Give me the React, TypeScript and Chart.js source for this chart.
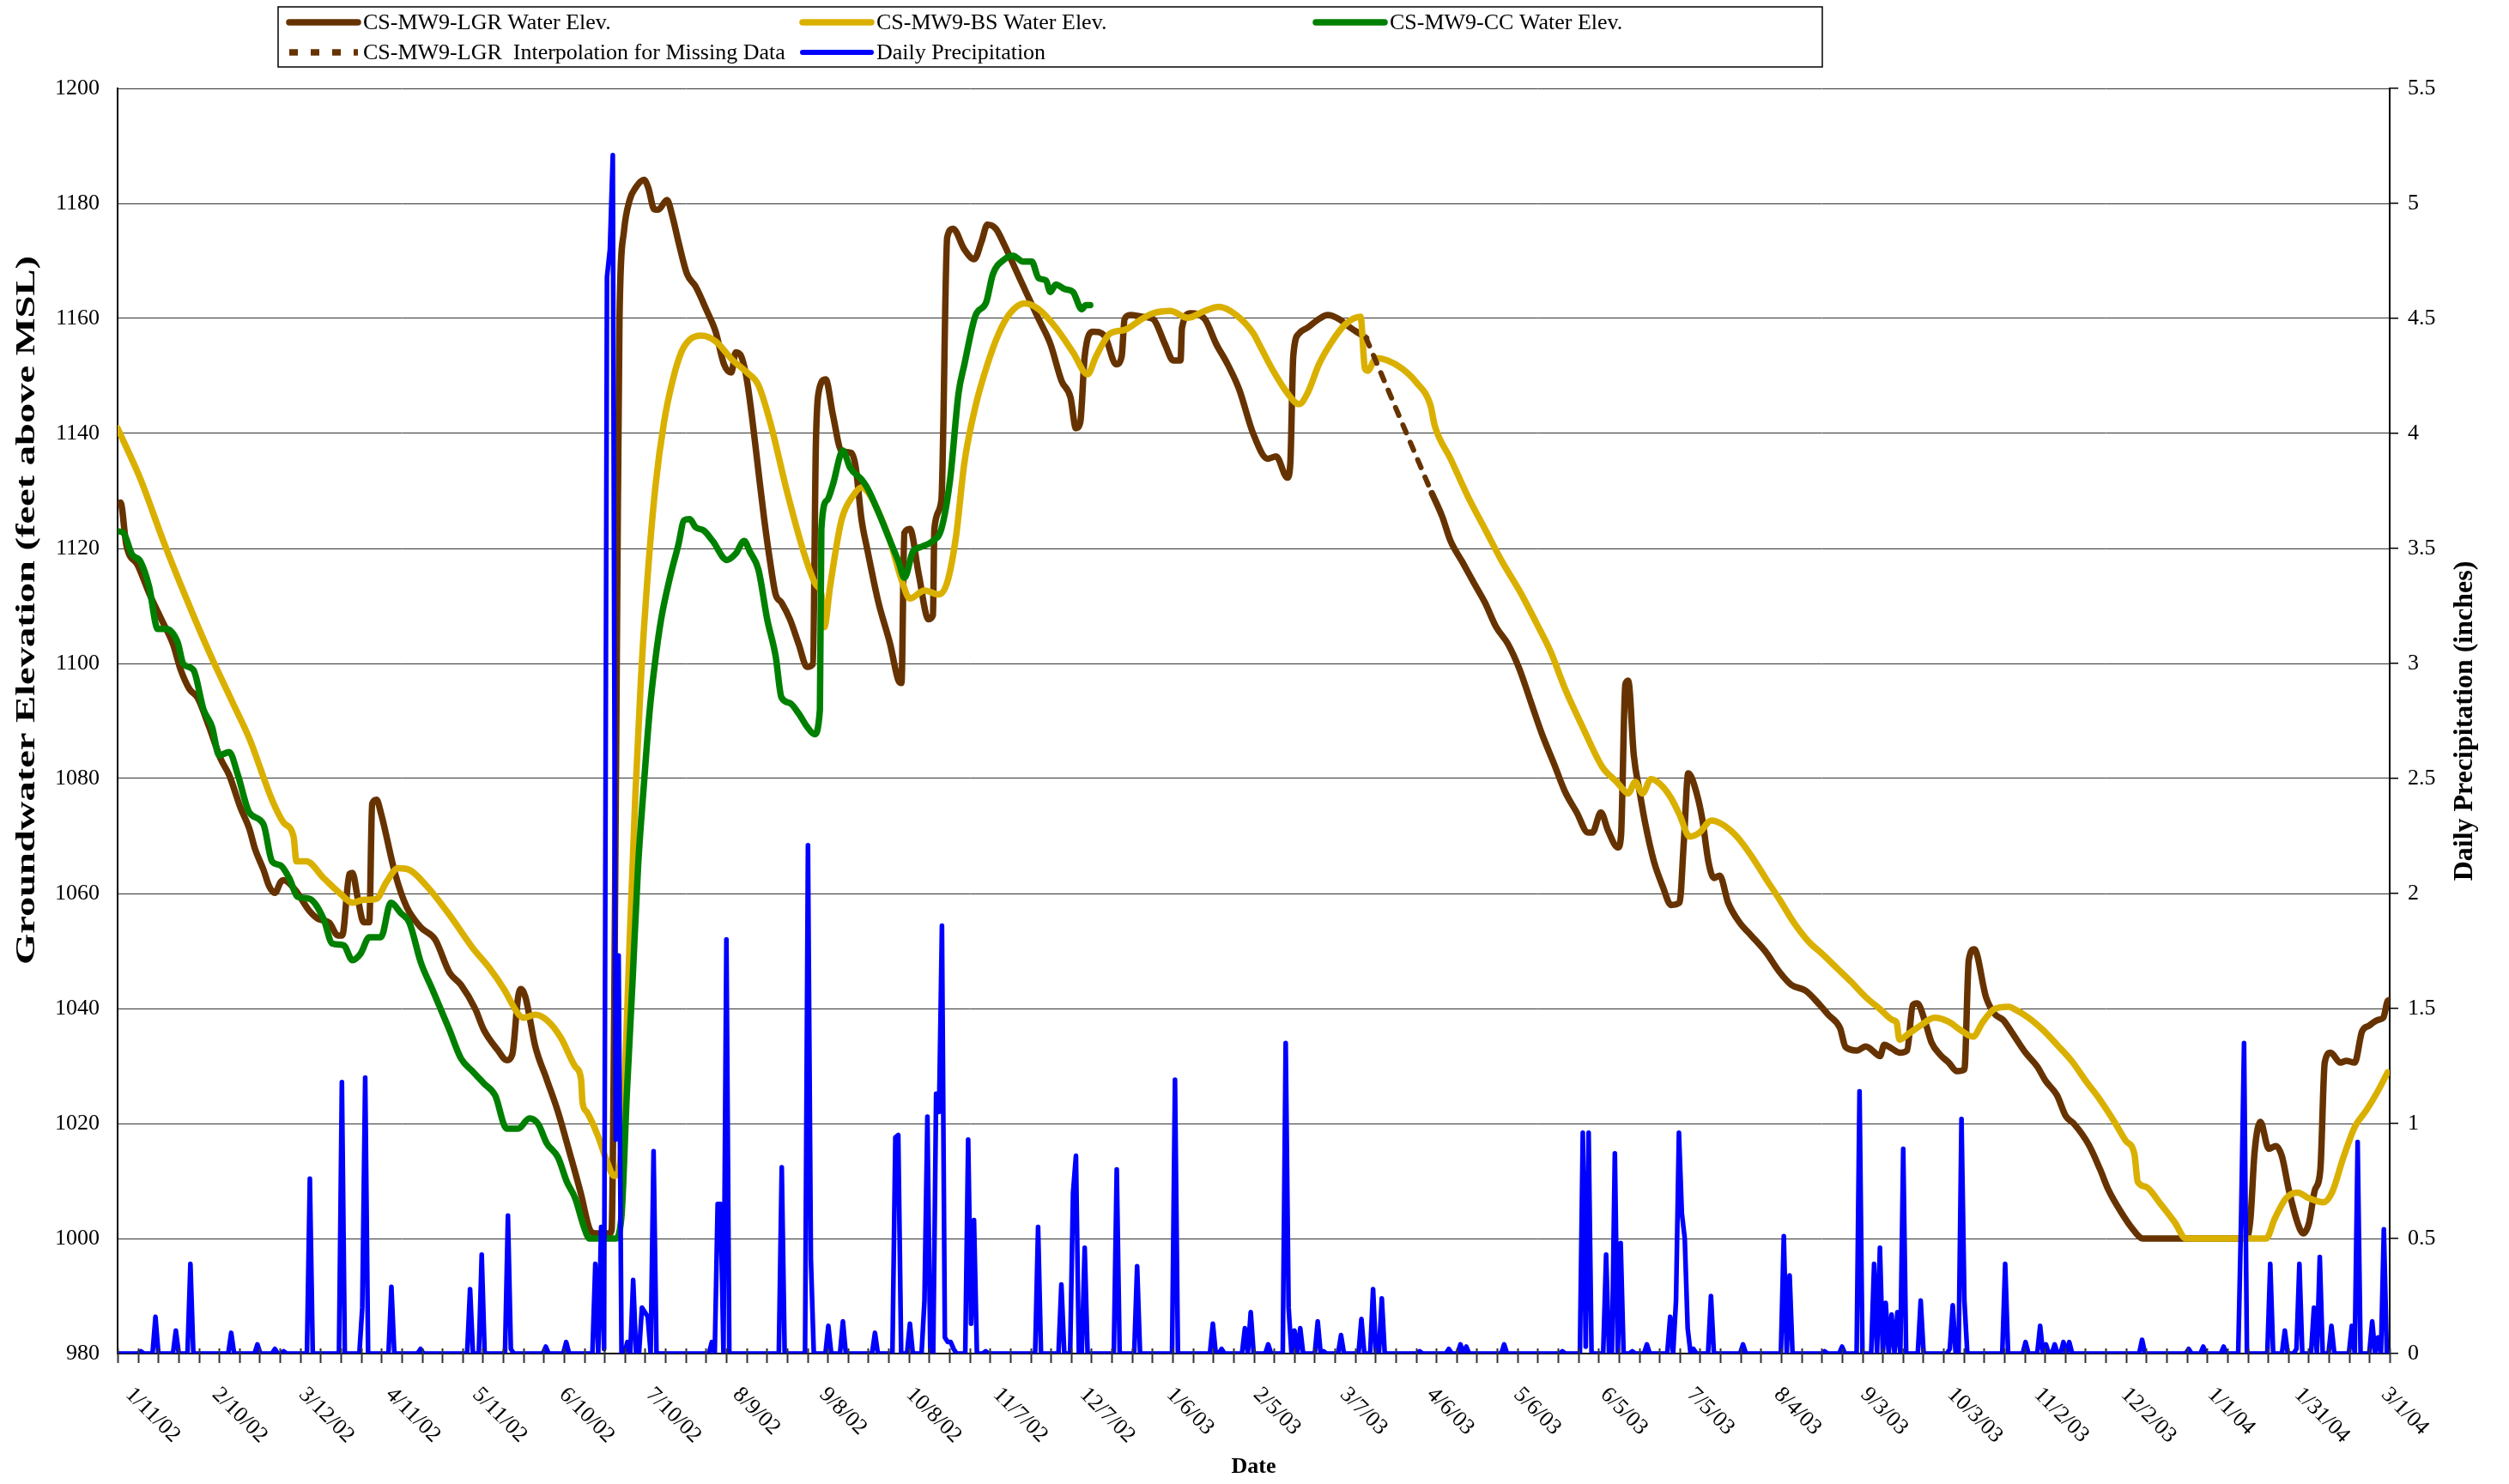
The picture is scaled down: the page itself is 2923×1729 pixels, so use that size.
import React, { useEffect, useRef } from "react";
import { Chart, registerables } from "chart.js";

Chart.register(...registerables);

// ---------- DATA (x = days since 1/11/02) ----------
const xTickLabels = [
  "1/11/02", "2/10/02", "3/12/02", "4/11/02", "5/11/02", "6/10/02", "7/10/02", "8/9/02", "9/8/02",
  "10/8/02", "11/7/02", "12/7/02", "1/6/03", "2/5/03", "3/7/03", "4/6/03", "5/6/03", "6/5/03",
  "7/5/03", "8/4/03", "9/3/03", "10/3/03", "11/2/03", "12/2/03", "1/1/04", "1/31/04", "3/1/04",
];
const labelStepDays = 30;

const lgrDays = [
  0, 1, 3, 7, 11, 15, 19, 21.6, 24.6, 27.5, 31.4, 35.4, 38.3, 42.2, 45.2, 47.2, 50.1, 52, 54, 56, 57, 61,
  65.8, 68.8, 72.7, 75.6, 77.1, 79.6, 80.6, 82.5, 84.5, 86.4, 87.4, 88.9, 90.4, 95.3, 99.2, 104.1, 109,
  113.9, 117.9, 122.8, 125.7, 130.6, 133.6, 135.5, 137.5, 138.5, 140, 143.4, 147.3, 151.2, 155.2, 159.1,
  162, 164, 169, 169.6, 170.5, 171.5, 172.3, 173.8, 175.8, 177.8, 180.7, 182.2, 184.2, 185.6, 188.6,
  190.5, 192.5, 195.5, 198.4, 202.3, 205.3, 208.2, 210.7, 212.2, 214.1, 216.1, 218, 220, 222, 224, 225.9,
  227.9, 230.8, 233.8, 236.7, 238.7, 239.7, 240.6, 243.1, 245.5, 248.5, 251.9, 253.4, 255.4, 257.3, 261.2,
  265.2, 268.1, 269.1, 270.1, 272, 275, 278.4, 279.9, 280.4, 282.8, 284.8, 286.8, 290.7, 294.1, 296.6,
  298.6, 301.5, 304.5, 308.4, 312.3, 316.2, 320.2, 324.1, 327.1, 329, 330.5, 332, 334.9, 338.8, 342.8,
  344.7, 345.7, 347.7, 351.6, 355.5, 359.5, 362.4, 364.9, 365.4, 368.3, 373.2, 377.1, 381.1, 385, 389.9,
  394.8, 397.7, 401.6, 402.6, 403.6, 405.6, 408.5, 412.4, 415.4, 419.3, 423.2, 426.2, 428.6, 440, 451.2,
  454.7, 457.6, 461.6, 465.5, 469.4, 473.3, 477.3, 481.2, 485.1, 489, 493, 496.9, 500.9, 504.8, 506.3,
  509.2, 511.7, 515.1, 516.1, 517.6, 518.6, 520.5, 522.5, 524.5, 527.4, 530.4, 533.3, 536.2, 537.7, 539.2,
  542.1, 544.1, 546.1, 548, 550, 552.9, 556.9, 560.8, 565.7, 570.6, 574.6, 579.5, 584.4, 587.3, 591.3,
  593.2, 597.2, 600.1, 604, 605, 606.5, 608.9, 611.9, 614.3, 616.3, 617.8, 620.7, 622.7, 625.6, 628.6,
  631.5, 634, 635.5, 637.4, 641.4, 644.3, 647.3, 650.1, 655, 659, 661.9, 665.8, 668.8, 671.7, 676.7,
  680.6, 683.5, 688.4, 691.4, 695.3, 730.7, 732.2, 733.6, 735.6, 738.5, 741, 743, 745.4, 748.4, 750.3,
  752.3, 754.3, 756.2, 757.7, 759.7, 763.1, 765.1, 768, 770.5, 772.9, 775.9, 777.8, 779.3, 780,
];
const lgrValues = [
  1127.7, 1128, 1120.6, 1117, 1112, 1107.7, 1103.4, 1099, 1095.6, 1094, 1089, 1083.4, 1080.6, 1074.9,
  1071.3, 1067.7, 1064.1, 1061.3, 1060.1, 1062, 1062.3, 1060.6, 1057, 1055.6, 1054.9, 1052.7, 1052.7,
  1063.4, 1063.6, 1059, 1055, 1055, 1075.6, 1076.3, 1074, 1063.4, 1057.7, 1054.1, 1052, 1046.3, 1044.1,
  1039.9, 1036.3, 1032.7, 1031, 1032, 1042, 1043.4, 1042, 1033.4, 1027.7, 1022, 1014.9, 1007.7, 1001.7,
  1000.9, 1000.9, 1001.5, 1040, 1110, 1160, 1175, 1180.6, 1182.7, 1184.1, 1182.7, 1179, 1178.9, 1180.6,
  1177.7, 1173.4, 1167.7, 1165.6, 1161.3, 1157.7, 1152, 1150.6, 1154.1, 1153.4, 1149.1, 1142, 1133.4,
  1125, 1117.7, 1112, 1110.6, 1107.7, 1103.4, 1099.4, 1099.9, 1137.7, 1147, 1149.4, 1143.4, 1137, 1136.6,
  1134.1, 1125, 1120, 1110.6, 1103.4, 1097, 1096.6, 1122.7, 1123.4, 1115.6, 1107.7, 1108.4, 1123.4,
  1128.4, 1174.1, 1175.6, 1172, 1170.3, 1173.4, 1176.3, 1175.6, 1172.7, 1168.4, 1164.1, 1159.9, 1155.6,
  1149.1, 1146.3, 1140.9, 1142, 1153.4, 1157.7, 1157, 1152, 1153.4, 1159.9, 1160.6, 1160.3, 1159.9,
  1155.6, 1152.7, 1152.7, 1158.4, 1160.9, 1159.9, 1155.6, 1152, 1147.7, 1139.9, 1135.6, 1136, 1132.3,
  1134.9, 1153.4, 1157.4, 1158.4, 1159.9, 1160.6, 1159.9, 1158.4, 1157.4, 1156.6, null, 1129.6, 1125.6,
  1121.3, 1117.7, 1114.1, 1110.6, 1106.3, 1103.4, 1099.1, 1093.4, 1087.7, 1082.7, 1077.7, 1074.1, 1070.6,
  1070.6, 1074.1, 1070.9, 1068, 1069.9, 1096.3, 1097, 1084.1, 1077.7, 1072, 1065.6, 1061.3, 1058, 1058.4,
  1069.1, 1080.9, 1077.4, 1072.7, 1065.6, 1062.7, 1063.1, 1058.4, 1054.9, 1052.7, 1049.9, 1046.3, 1044.1,
  1043.1, 1040.6, 1038.9, 1036.6, 1033.3, 1032.7, 1033.4, 1032, 1031.7, 1033.7, 1033.1, 1032.3, 1032.7,
  1040.6, 1040.9, 1037.4, 1034.1, 1032, 1030.6, 1029.1, 1029.4, 1048.4, 1050.3, 1042, 1039.1, 1038, 1036,
  1032.3, 1029.9, 1027.4, 1024.9, 1021.3, 1019.9, 1016.3, 1012, 1008.4, 1004.1, 1001.9, 1000, 1000,
  1003.4, 1014.9, 1020.3, 1015.6, 1016.1, 1014.3, 1008.4, 1002.7, 1000.9, 1002.7, 1008.4, 1012, 1030.6,
  1032.3, 1030.6, 1030.9, 1030.6, 1036, 1037, 1038, 1038.4, 1041.3, 1041.5,
];

const bsDays = [
  0, 7.9, 15.7, 23.6, 31.4, 39.3, 45.2, 53, 57, 60.4, 61.4, 64.8, 70.7, 76.6, 80.6, 84.5, 88.9, 92.3, 96.3,
  100.2, 106.1, 113.9, 121.8, 127.7, 132.6, 137.5, 139.5, 143.4, 147.3, 152.2, 157.1, 159.1, 159.6, 161.1,
  165, 168, 170.4, 172.4, 173.8, 175.8, 177.8, 179.7, 181.7, 184.6, 187.6, 190.5, 193.5, 196.4, 200.4,
  205.3, 211.2, 216.1, 220, 224, 229.8, 235.7, 239.7, 241.6, 242.6, 244.6, 248.5, 252.4, 255.4, 258,
  261.2, 265.2, 269.1, 272, 277, 281.9, 284.8, 287.8, 290.7, 294.6, 298.6, 302.5, 306.4, 311.3, 316.2,
  322.1, 328, 333, 335.9, 340.8, 345.7, 351.6, 355.5, 361.4, 367.3, 373.2, 378.1, 384, 389.9, 391.8,
  396.7, 401.6, 405.6, 408.5, 412.4, 416.4, 421.3, 426.7, 428.2, 429.1, 432.1, 436, 440.9, 445.8, 450.7,
  452.2, 457.6, 463.5, 469.4, 475.3, 481.2, 487.1, 492, 496.9, 502.8, 509.7, 514.6, 517.6, 518.6, 521,
  523.5, 526.4, 529.4, 533.3, 536.2, 539.7, 543.1, 547.1, 551, 555.9, 560.8, 565.7, 570.6, 575.5, 580.4,
  585.4, 590.3, 595.2, 600.1, 605, 609.4, 610.7, 611.7, 614.8, 618.8, 623.7, 628.6, 632.5, 636.9, 640.4,
  644.3, 649.2, 651.1, 656, 660.9, 665.8, 670.8, 675.7, 680.6, 685.5, 689.4, 692.4, 693.5, 696.3, 701.2,
  706.1, 710.1, 737.6, 740.5, 744.4, 748.4, 752.3, 757.2, 760.2, 764.1, 768, 772, 775.9, 779.3,
];
const bsValues = [
  1140.9, 1132, 1121.3, 1111.3, 1102, 1093.4, 1087, 1076.3, 1072.3, 1069.9, 1065.6, 1065.6, 1062.7,
  1059.9, 1058.4, 1058.9, 1059.1, 1062, 1064.4, 1064.1, 1061.3, 1056.3, 1050.6, 1047, 1043.4, 1039.1,
  1038.4, 1038.9, 1038, 1034.9, 1029.9, 1027.7, 1023.7, 1022, 1017.7, 1013.4, 1010.9, 1012.7, 1023.4,
  1052, 1077.7, 1097.7, 1113.4, 1130.6, 1142, 1149.1, 1154.1, 1156.3, 1157, 1156, 1152.7, 1150.6, 1148.4,
  1142, 1129.9, 1119.1, 1113.7, 1112, 1106.3, 1113.4, 1124.9, 1129.1, 1130.6, 1129.5, 1126.3, 1121.3,
  1114.6, 1111.3, 1112.7, 1112, 1114.1, 1122, 1134.9, 1144.9, 1152, 1157.4, 1160.9, 1162.6, 1161.6,
  1158.4, 1154.1, 1150.3, 1153.4, 1157.4, 1158, 1159.9, 1160.9, 1161.3, 1160.1, 1161.3, 1162, 1160.6,
  1157.4, 1155.6, 1150.9, 1147, 1145.1, 1147, 1152, 1155.6, 1158.9, 1160.3, 1151.3, 1150.9, 1153.1,
  1152.7, 1151.3, 1148.9, 1144.9, 1141.3, 1135.6, 1129.1, 1123.4, 1117.7, 1112.7, 1107, 1102, 1095.6,
  1089.1, 1082, 1079.4, 1077.7, 1077.4, 1079.4, 1077.4, 1079.9, 1079.1, 1076.6, 1073.7, 1069.9, 1070.6,
  1072.7, 1072, 1069.9, 1066.6, 1062.7, 1058.9, 1054.9, 1051.7, 1049.4, 1047, 1044.6, 1042, 1039.9,
  1038, 1037.6, 1034.6, 1035.6, 1037, 1038.4, 1037.7, 1036.3, 1035.1, 1037.7, 1039.9, 1040.3, 1039.9,
  1038.4, 1036.3, 1033.7, 1030.9, 1027.4, 1024.1, 1020.3, 1017, 1014.6, 1009.9, 1009, 1006.1, 1002.9,
  1000, 1000, 1003.4, 1007, 1008, 1007, 1006.3, 1008, 1014.1, 1019.4, 1022.3, 1025.6, 1028.9,
];

const ccDays = [
  0, 2, 4.9, 7.9, 10.8, 13.8, 16.7, 20.6, 22.6, 26, 29.5, 32.4, 34.9, 38.3, 41.3, 45.2, 50.1, 53, 55.9,
  58.9, 61.9, 65.8, 70.7, 73.7, 77.6, 80.6, 83.5, 86.4, 90.4, 93.8, 97.2, 100.2, 104.1, 108, 113.9, 117.9,
  121.8, 125.7, 129.6, 133.6, 137.5, 141.4, 144.4, 147.3, 151.2, 154.2, 157.1, 160.1, 162, 170.9, 172.9,
  174.8, 176.8, 178.7, 180.7, 182.7, 184.6, 186.6, 189.6, 192.5, 194.5, 196.4, 198.4, 201.3, 204.3, 209.2,
  212.2, 215.1, 217.1, 220, 223, 225.9, 227.9, 230.8, 233.8, 236.7, 239.2, 241.1, 241.6, 243.6, 245.5,
  249, 251.4, 255.4, 257.3, 261.2, 265.2, 268.1, 270.1, 273, 276, 279.9, 282.8, 285.8, 288.7, 290.7,
  294.6, 298.1, 300.5, 304.5, 307.4, 310.8, 313.8, 316.2, 318.7, 320.2, 322.1, 325.1, 328, 331, 332.4,
  333.9,
];
const ccValues = [
  1123, 1122.7, 1119, 1117.7, 1113.4, 1106, 1106, 1103.7, 1099.9, 1098.9, 1092, 1089, 1084, 1084.6,
  1080.6, 1074.1, 1072, 1065.6, 1064.9, 1062.7, 1059.4, 1059.1, 1055.6, 1051.3, 1051, 1048.4, 1049.6,
  1052.4, 1052.4, 1058.4, 1056.6, 1054.9, 1048, 1043.4, 1036.3, 1031.3, 1029.1, 1027, 1024.9, 1019.1,
  1019.1, 1020.9, 1019.9, 1016.6, 1014.1, 1009.9, 1007, 1002, 1000, 1000, 1003.4, 1024.9, 1044.9, 1064.9,
  1079.1, 1092, 1100.6, 1107.7, 1114.9, 1120.6, 1124.9, 1125.1, 1123.7, 1123.1, 1121.3, 1118, 1119.1,
  1121.3, 1119.4, 1116.3, 1107.7, 1101.3, 1094.1, 1093.1, 1091.3, 1089, 1087.7, 1092, 1123.4, 1128.4,
  1131, 1137, 1134.1, 1132, 1130.6, 1126.3, 1121.3, 1117.7, 1114.9, 1119.4, 1120.3, 1121.3, 1123.4, 1132,
  1147, 1152, 1160.6, 1162.7, 1167.7, 1170.3, 1170.9, 1169.9, 1169.9, 1167, 1166.6, 1164.6, 1165.9,
  1165.1, 1164.6, 1161.6, 1162.3, 1162.3,
];

const interpDays = [428.6, 451.2];
const interpValues = [1156.6, 1129.6];

const precipDays = [
  8, 13, 20, 25, 39, 48, 54, 57, 66, 77, 84, 85, 94, 104, 121, 125, 134, 135, 147, 154, 164, 166, 167,
  168, 169, 170, 171, 172, 175, 177, 180, 181, 182, 184, 204, 206, 207, 209, 228, 237, 238, 244, 249, 260,
  267, 268, 272, 277, 278, 281, 282, 283, 284, 285, 286, 287, 292, 293, 294, 298, 316, 324, 328, 329, 332,
  343, 350, 363, 376, 379, 387, 389, 395, 401, 402, 404, 406, 412, 414, 420, 427, 431, 434, 447, 457, 461,
  463, 476, 496, 503, 504, 505, 511, 514, 516, 520, 525, 533, 535, 536, 537, 538, 539, 541, 547, 558, 572,
  574, 586, 592, 598, 603, 605, 607, 609, 611, 613, 619, 629, 630, 633, 634, 648, 655, 660, 662, 665, 668,
  670, 695, 711, 716, 723, 729, 730, 739, 744, 748, 749, 754, 756, 760, 767, 769, 774, 776, 778,
];
const precipValues = [
  0.01, 0.16, 0.1, 0.39, 0.09, 0.04, 0.02, 0.01, 0.76, 1.18, 0.2, 1.2, 0.29, 0.02, 0.28, 0.43, 0.6, 0.02,
  0.03, 0.05, 0.39, 0.55, 0.02, 4.68, 4.8, 5.21, 0.93, 1.73, 0.05, 0.32, 0.2, 0.18, 0.16, 0.88, 0.05,
  0.65, 0.65, 1.8, 0.81, 2.21, 0.41, 0.12, 0.14, 0.09, 0.94, 0.95, 0.13, 0.23, 1.03, 1.13, 1.05, 1.86,
  0.07, 0.05, 0.05, 0.02, 0.93, 0.13, 0.58, 0.01, 0.55, 0.3, 0.7, 0.86, 0.46, 0.8, 0.38, 1.19, 0.13, 0.02,
  0.11, 0.18, 0.04, 1.35, 0.2, 0.1, 0.11, 0.14, 0.01, 0.08, 0.15, 0.28, 0.24, 0.01, 0.02, 0.04, 0.03,
  0.04, 0.01, 0.96, 0.03, 0.96, 0.43, 0.87, 0.48, 0.01, 0.04, 0.16, 0.23, 0.96, 0.61, 0.5, 0.11, 0.02,
  0.25, 0.04, 0.51, 0.34, 0.01, 0.03, 1.14, 0.39, 0.46, 0.22, 0.17, 0.18, 0.89, 0.23, 0.02, 0.21, 1.02,
  0.23, 0.39, 0.05, 0.12, 0.04, 0.04, 0.05, 0.05, 0.06, 0.02, 0.03, 0.03, 0.59, 1.35, 0.39, 0.1, 0.02,
  0.39, 0.2, 0.42, 0.12, 0.12, 0.92, 0.14, 0.07, 0.54,
];
const totalDays = 780;

// ---------- STYLE ----------
const FONT = "'Liberation Serif', 'Times New Roman', serif";
const W = 2923;
const H = 1729;
const PLOT_LEFT = 137;
const PLOT_RIGHT = 2784;
const PLOT_TOP = 103;
const PLOT_BOTTOM = 1577;
const C_LGR = "#663300";
const C_BS = "#DAB000";
const C_CC = "#008000";
const C_PRE = "#0000FF";

const pts = (xs: number[], ys: (number | null)[]) => xs.map((x, i) => ({ x, y: ys[i] }));

function dailyPrecip() {
  const m = new Map<number, number>();
  precipDays.forEach((d, i) => m.set(d, precipValues[i]));
  const out: { x: number; y: number }[] = [];
  for (let d = 0; d <= totalDays; d++) out.push({ x: d, y: m.get(d) ?? 0 });
  return out;
}

const decorPlugin = {
  id: "decor",
  afterDraw(chart: any) {
    const ctx = chart.ctx as CanvasRenderingContext2D;
    const xs = chart.scales.x;
    const area = chart.chartArea;
    ctx.save();
    // weekly tick marks crossing the axis
    ctx.strokeStyle = "#333";
    ctx.lineWidth = 2;
    const nTicks = 112;
    for (let i = 0; i <= nTicks; i++) {
      const px = Math.round(xs.getPixelForValue((totalDays * i) / nTicks)) + 0.5;
      ctx.beginPath();
      ctx.moveTo(px, area.bottom - 6);
      ctx.lineTo(px, area.bottom + 11);
      ctx.stroke();
    }
    // rotated date labels
    ctx.fillStyle = "#000";
    ctx.font = `26px ${FONT}`;
    ctx.textAlign = "left";
    ctx.textBaseline = "middle";
    xTickLabels.forEach((lab, i) => {
      const day = i * labelStepDays;
      const px = xs.getPixelForValue(day) + 13 - 19 * (day / totalDays);
      ctx.save();
      ctx.translate(px, area.bottom + 44);
      ctx.rotate(Math.PI / 4);
      ctx.fillText(lab, 0, 0);
      ctx.restore();
    });
    // axis titles
    ctx.textAlign = "center";
    ctx.textBaseline = "middle";
    ctx.font = `bold 26px ${FONT}`;
    ctx.fillText("Date", (area.left + area.right) / 2, 1709);
    ctx.save();
    const leftTitle = "Groundwater Elevation (feet above MSL)";
    ctx.font = `bold 32px ${FONT}`;
    const sx = 826 / ctx.measureText(leftTitle).width;
    ctx.translate(32, 711);
    ctx.rotate(-Math.PI / 2);
    ctx.scale(sx, 1);
    ctx.fillText(leftTitle, 0, 0);
    ctx.restore();
    ctx.save();
    ctx.font = `bold 32px ${FONT}`;
    ctx.translate(2872, 840);
    ctx.rotate(-Math.PI / 2);
    ctx.fillText("Daily Precipitation (inches)", 0, 0);
    ctx.restore();

    // legend
    ctx.fillStyle = "#fff";
    ctx.fillRect(324, 8, 1799, 70);
    ctx.strokeStyle = "#000";
    ctx.lineWidth = 1.5;
    ctx.strokeRect(324, 8, 1799, 70);
    const ds = chart.data.datasets;
    const byKey = (k: string) => ds.find((d: any) => d.key === k);
    const entries = [
      { k: "lgr", x: 334, y: 26 },
      { k: "bs", x: 932, y: 26 },
      { k: "cc", x: 1530, y: 26 },
      { k: "interp", x: 334, y: 61 },
      { k: "pre", x: 932, y: 61 },
    ];
    entries.forEach((e) => {
      const d = byKey(e.k);
      ctx.save();
      ctx.strokeStyle = d.borderColor;
      ctx.lineWidth = e.k === "pre" ? 6 : 7.5;
      ctx.lineCap = e.k === "interp" ? "butt" : "round";
      if (e.k === "interp") ctx.setLineDash([10, 15]);
      ctx.beginPath();
      ctx.moveTo(e.x + 3, e.y);
      ctx.lineTo(e.x + 83, e.y);
      ctx.stroke();
      ctx.restore();
      ctx.fillStyle = "#000";
      ctx.font = `26px ${FONT}`;
      ctx.textAlign = "left";
      ctx.textBaseline = "middle";
      ctx.fillText(d.label, e.x + 89, e.y + 1);
    });
    ctx.restore();
  },
};

export default function App() {
  const ref = useRef<HTMLCanvasElement | null>(null);
  useEffect(() => {
    if (!ref.current) return;
    Chart.defaults.font.family = FONT;
    const chart = new Chart(ref.current, {
      type: "line",
      data: {
        datasets: [
          {
            key: "pre",
            label: "Daily Precipitation",
            data: dailyPrecip(),
            yAxisID: "y1",
            borderColor: C_PRE,
            borderWidth: 5.5,
            pointRadius: 0,
            tension: 0,
            order: 0,
          },
          {
            key: "interp",
            label: "CS-MW9-LGR  Interpolation for Missing Data",
            data: pts(interpDays, interpValues),
            yAxisID: "y",
            borderColor: C_LGR,
            borderWidth: 6,
            borderDash: [10, 12],
            pointRadius: 0,
            order: 1,
          },
          {
            key: "cc",
            label: "CS-MW9-CC Water Elev.",
            data: pts(ccDays, ccValues),
            yAxisID: "y",
            borderColor: C_CC,
            borderWidth: 7.5,
            pointRadius: 0,
            cubicInterpolationMode: "monotone",
            order: 2,
          },
          {
            key: "bs",
            label: "CS-MW9-BS Water Elev.",
            data: pts(bsDays, bsValues),
            yAxisID: "y",
            borderColor: C_BS,
            borderWidth: 7.5,
            pointRadius: 0,
            cubicInterpolationMode: "monotone",
            order: 3,
          },
          {
            key: "lgr",
            label: "CS-MW9-LGR Water Elev.",
            data: pts(lgrDays, lgrValues),
            yAxisID: "y",
            borderColor: C_LGR,
            borderWidth: 7.5,
            pointRadius: 0,
            spanGaps: false,
            cubicInterpolationMode: "monotone",
            order: 4,
          },
        ] as any,
      },
      options: {
        responsive: false,
        animation: false,
        parsing: true,
        layout: { padding: { top: PLOT_TOP, left: 0, right: 0, bottom: 0 } },
        plugins: { legend: { display: false }, tooltip: { enabled: false }, title: { display: false } },
        elements: { line: { borderCapStyle: "round", borderJoinStyle: "round" } },
        scales: {
          x: {
            type: "linear",
            min: 0,
            max: totalDays,
            ticks: { display: false },
            grid: { display: false },
            border: { display: true, color: "#000", width: 2 },
            afterFit: (s: any) => {
              s.height = H - PLOT_BOTTOM;
            },
          },
          y: {
            position: "left",
            min: 980,
            max: 1200,
            ticks: {
              stepSize: 20,
              color: "#000",
              font: { size: 26, family: FONT },
              padding: 21,
              callback: (v: any) => String(v),
            },
            grid: { color: "#333", lineWidth: 1, drawTicks: false },
            border: { display: true, color: "#000", width: 2 },
            afterFit: (s: any) => {
              s.width = PLOT_LEFT;
            },
          },
          y1: {
            position: "right",
            min: 0,
            max: 5.5,
            ticks: {
              stepSize: 0.5,
              color: "#000",
              font: { size: 26, family: FONT },
              padding: 11,
              callback: (v: any) => String(Math.round(Number(v) * 10) / 10),
            },
            grid: { drawOnChartArea: false, drawTicks: true, tickLength: 10, color: "#000", lineWidth: 1.5 },
            border: { display: true, color: "#000", width: 2 },
            afterFit: (s: any) => {
              s.width = W - PLOT_RIGHT;
            },
          },
        },
      } as any,
      plugins: [decorPlugin],
    });
    return () => chart.destroy();
  }, []);
  return (
    <div style={{ position: "fixed", left: 0, top: 0, width: W, height: H, background: "#fff" }}>
      <canvas ref={ref} width={W} height={H} style={{ width: W, height: H, display: "block" }} />
    </div>
  );
}
